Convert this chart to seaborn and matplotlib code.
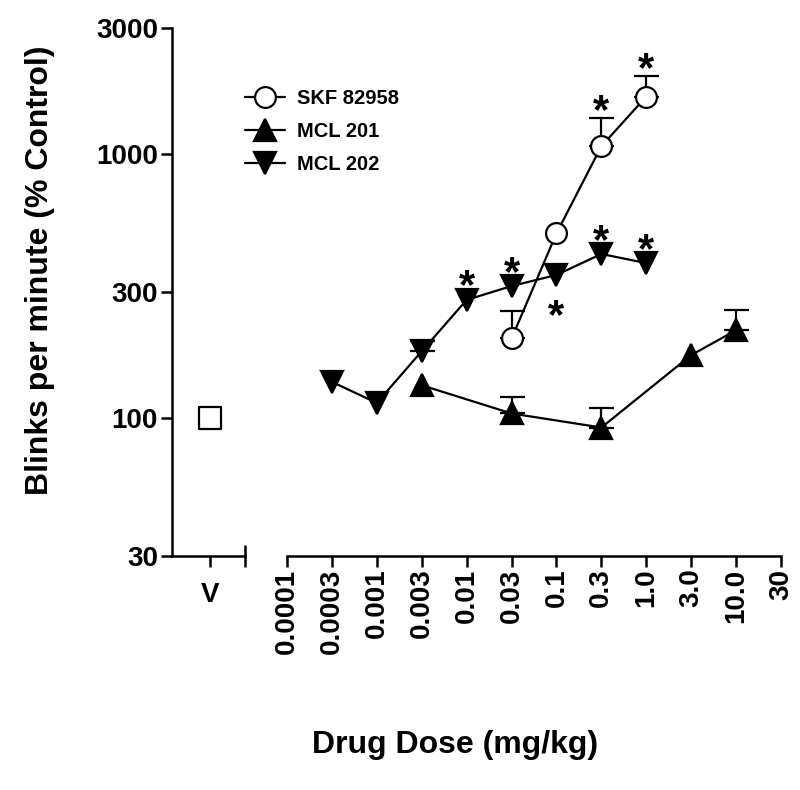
import numpy as np
import pandas as pd
import seaborn as sns
import matplotlib.pyplot as plt
from matplotlib.lines import Line2D
from matplotlib.ticker import NullLocator

# Data
dose_labels = ['0.0001', '0.0003', '0.001', '0.003', '0.01', '0.03',
               '0.1', '0.3', '1.0', '3.0', '10.0', '30']

skf_doses = ['0.03', '0.1', '0.3', '1.0']
skf_mean = [200, 500, 1070, 1650]
skf_upper = [254, 500, 1370, 1970]

mcl201_doses = ['0.003', '0.03', '0.3', '3.0', '10.0']
mcl201_mean = [133, 104, 92, 173, 215]
mcl201_upper = [133, 120, 109, 173, 256]

mcl202_doses = ['0.0003', '0.001', '0.003', '0.01', '0.03', '0.1', '0.3', '1.0']
mcl202_mean = [137, 114, 179, 280, 316, 348, 418, 386]
mcl202_upper = [137, 114, 195, 280, 316, 348, 418, 386]

vehicle_mean = [100]

# significant differences: (compound, dose, side of the point)
stars = [('MCL 202', '0.01', 'above'), ('MCL 202', '0.03', 'above'),
         ('MCL 202', '0.3', 'above'), ('MCL 202', '1.0', 'above'),
         ('MCL 202', '0.1', 'below'),
         ('SKF 82958', '0.3', 'above'), ('SKF 82958', '1.0', 'above')]

compounds = ['SKF 82958', 'MCL 201', 'MCL 202']

frames = []
for name, d, m, u in [('SKF 82958', skf_doses, skf_mean, skf_upper),
                      ('MCL 201', mcl201_doses, mcl201_mean, mcl201_upper),
                      ('MCL 202', mcl202_doses, mcl202_mean, mcl202_upper)]:
    frames.append(pd.DataFrame({'compound': name, 'dose': d, 'value': m, 'upper': u}))
df = pd.concat(frames, ignore_index=True)
df['pos'] = df['dose'].map({lab: i for i, lab in enumerate(dose_labels)})

sns.set_style('ticks')
plt.rcParams['font.family'] = ['Liberation Sans', 'DejaVu Sans']
plt.rcParams['font.weight'] = 'bold'
for key in ['text.color', 'axes.labelcolor', 'xtick.color', 'ytick.color', 'axes.edgecolor']:
    plt.rcParams[key] = 'black'

fig = plt.figure(figsize=(8, 7.9), dpi=100)
bottom, height = 1 - 556 / 790, (556 - 28) / 790
ax_v = fig.add_axes([172 / 800, bottom, 73 / 800, height])
ax = fig.add_axes([287 / 800, bottom, 494 / 800, height], sharey=ax_v)

styles = {'SKF 82958': dict(marker='o', markersize=15, markerfacecolor='white', zorder=5),
          'MCL 201': dict(marker='^', markersize=16, markerfacecolor='black', zorder=4),
          'MCL 202': dict(marker='v', markersize=16, markerfacecolor='black', zorder=3)}

# upward-only error bars, drawn under the markers
for name in compounds:
    sub = df[(df['compound'] == name) & (df['upper'] > df['value'])]
    ax.errorbar(sub['pos'], sub['value'], yerr=[np.zeros(len(sub)), sub['upper'] - sub['value']],
                fmt='none', ecolor='black', elinewidth=1.6, capsize=9, capthick=1.6, zorder=1)

for name in ['MCL 202', 'MCL 201', 'SKF 82958']:
    sns.lineplot(data=df[df['compound'] == name], x='pos', y='value', color='black',
                 linewidth=1.6, markeredgecolor='black', markeredgewidth=1.6,
                 ax=ax, legend=False, **styles[name])

# vehicle
sns.scatterplot(x=[0], y=vehicle_mean, marker='s', s=250, facecolor='white',
                edgecolor='black', linewidth=1.6, ax=ax_v, legend=False, zorder=3)

# asterisks
for name, dose, side in stars:
    row = df[(df['compound'] == name) & (df['dose'] == dose)].iloc[0]
    if side == 'below':
        y, dy = row['value'], -38.5
    elif row['upper'] > row['value']:
        y, dy = row['upper'], -3.5
    else:
        y, dy = row['value'], 1
    ax.annotate('*', (row['pos'], y), xytext=(0, dy), textcoords='offset points',
                ha='center', va='baseline', fontsize=30, fontweight='bold')

# axes styling
for a in (ax_v, ax):
    a.spines['top'].set_visible(False)
    a.spines['right'].set_visible(False)
    for s in a.spines.values():
        s.set_linewidth(1.8)
    a.set_xlabel('')
    a.set_ylabel('')

ax_v.set_yscale('log')
ax_v.set_ylim(30, 3000)
ax_v.yaxis.set_minor_locator(NullLocator())
ax_v.set_yticks([30, 100, 300, 1000, 3000])
ax_v.set_yticklabels(['30', '100', '300', '1000', '3000'])
ax_v.tick_params(axis='y', direction='out', length=8, width=1.8, labelsize=20, pad=2)
ax_v.set_xlim(-1.1, 1)
ax_v.set_xticks([0])
ax_v.set_xticklabels(['V'])
ax_v.set_xticks([1], minor=True)
ax_v.tick_params(axis='x', which='major', direction='out', length=8, width=1.8, labelsize=20, pad=11)
ax_v.tick_params(axis='x', which='minor', direction='inout', length=16, width=1.8)

ax.spines['left'].set_visible(False)
ax.tick_params(axis='y', which='both', left=False, labelleft=False)
ax.set_xlim(0, len(dose_labels) - 1)
ax.set_xticks(range(len(dose_labels)))
ax.set_xticklabels(dose_labels, rotation=90)
ax.set_xticks([0, len(dose_labels) - 1], minor=True)
ax.tick_params(axis='x', which='major', direction='out', length=8, width=1.8, labelsize=20, pad=1)
ax.tick_params(axis='x', which='minor', direction='inout', length=16, width=1.8)

fig.text(40 / 800, 1 - 270 / 790, 'Blinks per minute (% Control)', rotation=90,
         ha='center', va='center', fontsize=23, fontweight='bold')
fig.text(455 / 800, 1 - 745 / 790, 'Drug Dose (mg/kg)', ha='center', va='center',
         fontsize=23, fontweight='bold')

handles = [Line2D([], [], color='black', linewidth=1.6, markeredgecolor='black',
                  markeredgewidth=1.6, **{k: v for k, v in styles[n].items() if k != 'zorder'})
           for n in compounds]
fig.legend(handles, compounds, loc='upper left', bbox_to_anchor=(245 / 800, 1 - 89 / 790),
           frameon=False, borderpad=0, borderaxespad=0, handlelength=2.0,
           handletextpad=0.6, labelspacing=0.7, prop={'size': 14.5, 'weight': 'bold'})

fig.savefig('out.png', dpi=100)
